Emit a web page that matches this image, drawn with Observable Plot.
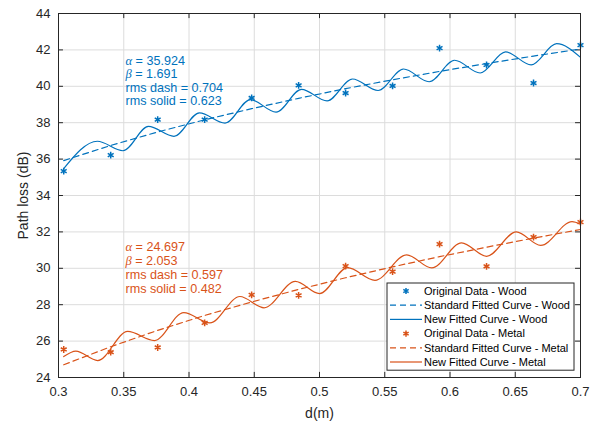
<!DOCTYPE html>
<html><head><meta charset="utf-8">
<script src="https://cdn.jsdelivr.net/npm/d3@7"></script>
<script src="https://cdn.jsdelivr.net/npm/@observablehq/plot@0.6"></script>
<style>body{margin:0;background:#fff}#chart{width:604px;height:429px}</style>
</head><body><div id="chart"></div>
<script>
// ---- data ----
const distance = [0.304,0.340,0.376,0.412,0.448,0.484,0.520,0.556,0.592,0.628,0.664,0.700];
const woodMeasured = [35.34,36.22,38.17,38.17,39.36,40.05,39.63,40.02,42.10,41.17,40.18,42.26];
const metalMeasured = [25.54,25.39,25.65,27.00,28.54,28.51,30.12,29.82,31.33,30.11,31.71,32.54];
const woodStandardFit = [35.92,36.75,37.49,38.16,38.77,39.34,39.87,40.36,40.82,41.25,41.66,42.05];
const metalStandardFit = [24.70,25.69,26.59,27.41,28.15,28.84,29.48,30.08,30.64,31.16,31.66,32.13];
const woodNewFitD = [0.304,0.3298,0.3494,0.3689,0.3885,0.408,0.4276,0.4471,0.4667,0.4862,0.5058,0.5253,0.5449,0.5644,0.584,0.6035,0.6231,0.6426,0.6622,0.6817,0.700];
const woodNewFit = [35.48,36.98,36.46,37.80,37.25,38.54,37.98,39.27,38.58,39.83,39.20,40.40,39.77,40.95,40.25,41.43,40.73,41.89,41.18,42.34,41.59];
const metalNewFitD = [0.304,0.3133,0.3300,0.3530,0.3735,0.3960,0.4160,0.4390,0.4575,0.4815,0.5000,0.5215,0.5425,0.5668,0.5860,0.6089,0.6280,0.6508,0.6695,0.6935,0.700];
const metalNewFit = [25.15,25.45,24.93,26.53,26.03,27.57,27.00,28.45,27.83,29.28,28.61,30.04,29.34,30.74,30.02,31.40,30.66,32.00,31.26,32.56,32.42];
const xTicks = [0.3,0.35,0.4,0.45,0.5,0.55,0.6,0.65,0.7];
const xTickLabels = ["0.3","0.35","0.4","0.45","0.5","0.55","0.6","0.65","0.7"];
const yTicks = [24,26,28,30,32,34,36,38,40,42,44];
const woodNotes = ["α = 35.924","β = 1.691","rms dash = 0.704","rms solid = 0.623"];
const metalNotes = ["α = 24.697","β = 2.053","rms dash = 0.597","rms solid = 0.482"];
const woodNoteAnchor = {d: 0.3513, pl: 41.66};
const metalNoteAnchor = {d: 0.3513, pl: 31.45};
const legendLabels = ["Original Data - Wood","Standard Fitted Curve - Wood","New Fitted Curve - Wood","Original Data - Metal","Standard Fitted Curve - Metal","New Fitted Curve - Metal"];
const legendKinds = ["point","dash","solid","point","dash","solid"];
const legendColors = ["#0072BD","#0072BD","#0072BD","#D95319","#D95319","#D95319"];
const BLUE = "#0072BD", ORANGE = "#D95319";

// ---- tables ----
const measured = distance.map((d,i)=>({d, wood: woodMeasured[i], metal: metalMeasured[i], ws: woodStandardFit[i], ms: metalStandardFit[i]}));
const woodNew = woodNewFitD.map((d,i)=>({d, v: woodNewFit[i]}));
const metalNew = metalNewFitD.map((d,i)=>({d, v: metalNewFit[i]}));

const font = "'Liberation Sans', Arial, Helvetica, sans-serif";
const noteMarks = (notes, anchor, color, step) => notes.map((t, i) =>
  Plot.text([t], {x: anchor.d, y: anchor.pl, dy: i * step, textAnchor: "start", lineAnchor: "top", fontSize: 12.6, fill: color, className: "note"}));

const chart = Plot.plot({
  width: 604, height: 429,
  marginLeft: 58, marginRight: 24, marginTop: 13, marginBottom: 52,
  style: {fontFamily: font, fontSize: "13px", background: "#fff", color: "#262626"},
  x: {domain: [0.3, 0.7]},
  y: {domain: [24, 44]},
  marks: [
    Plot.gridX(xTicks, {stroke: "#dcdcdc", strokeOpacity: 1}),
    Plot.gridY(yTicks, {stroke: "#dcdcdc", strokeOpacity: 1}),
    // inward ticks on all four sides
    Plot.ruleX(xTicks, {y1: 24, y2: 24.28, stroke: "#262626"}),
    Plot.ruleX(xTicks, {y1: 44, y2: 43.72, stroke: "#262626"}),
    Plot.ruleY(yTicks, {x1: 0.3, x2: 0.3038, stroke: "#262626"}),
    Plot.ruleY(yTicks, {x1: 0.7, x2: 0.6962, stroke: "#262626"}),
    Plot.axisX(xTicks, {tickSize: 0, tickPadding: 9, tickFormat: d => xTickLabels[xTicks.indexOf(d)], fontSize: 13, label: "d(m)", labelAnchor: "center", labelOffset: 40, labelArrow: "none", fill: "#262626"}),
    Plot.axisY(yTicks, {tickSize: 0, tickPadding: 8, fontSize: 13, label: "Path loss (dB)", labelAnchor: "center", labelOffset: 40, labelArrow: "none", fill: "#262626"}),
    // standard fits (dashed)
    Plot.line(measured, {x: "d", y: "ws", stroke: BLUE, strokeWidth: 1.2, strokeDasharray: "6,4"}),
    Plot.line(measured, {x: "d", y: "ms", stroke: ORANGE, strokeWidth: 1.2, strokeDasharray: "6,4"}),
    // new fits (solid)
    Plot.line(woodNew, {x: "d", y: "v", stroke: BLUE, strokeWidth: 1.2, curve: "monotone-x"}),
    Plot.line(metalNew, {x: "d", y: "v", stroke: ORANGE, strokeWidth: 1.2, curve: "monotone-x"}),
    // measured data
    Plot.dot(measured, {x: "d", y: "wood", symbol: "asterisk", r: 3.2, stroke: BLUE, strokeWidth: 1.5}),
    Plot.dot(measured, {x: "d", y: "metal", symbol: "asterisk", r: 3.2, stroke: ORANGE, strokeWidth: 1.5}),
    // annotations
    ...noteMarks(woodNotes, woodNoteAnchor, BLUE, 13.3),
    ...noteMarks(metalNotes, metalNoteAnchor, ORANGE, 14),
    Plot.frame({stroke: "#262626"})
  ]
});
document.getElementById("chart").appendChild(chart);
d3.select(chart).selectAll('[aria-label="x-axis label"], [aria-label="y-axis label"]').attr("font-size", 14);

// italic serif Greek letters as in the original TeX labels
d3.select(chart).selectAll(".note text").each(function() {
  const t = this.textContent;
  if (t[0] === "α" || t[0] === "β") {
    const el = d3.select(this);
    el.text(null);
    el.append("tspan").attr("font-family", "'Liberation Serif', serif").attr("font-style", "italic").text(t[0]);
    el.append("tspan").text(t.slice(1));
  }
});

// ---- legend box (inside the axes, south-east) ----
const svg = d3.select(chart);
const lx = 387, ly = 283, lw = 187, rowH = 14.2;
const lg = svg.append("g").attr("font-family", font).attr("font-size", 11).attr("text-anchor", "start");
lg.append("rect").attr("x", lx).attr("y", ly).attr("width", lw).attr("height", rowH * legendLabels.length + 2)
  .attr("fill", "#fff").attr("stroke", "#262626").attr("stroke-width", 1);
legendLabels.forEach((lab, i) => {
  const cy = ly + 8 + i * rowH;
  const c = legendColors[i];
  if (legendKinds[i] === "point") {
    lg.append("path").attr("d", d3.symbol(d3.symbolAsterisk, 26)()).attr("transform", `translate(${lx + 19},${cy})`)
      .attr("stroke", c).attr("stroke-width", 1.5).attr("fill", "none");
  } else {
    lg.append("line").attr("x1", lx + 3).attr("x2", lx + 35).attr("y1", cy).attr("y2", cy)
      .attr("stroke", c).attr("stroke-width", 1.2).attr("stroke-dasharray", legendKinds[i] === "dash" ? "6,4" : null);
  }
  lg.append("text").attr("x", lx + 37).attr("y", cy).attr("dy", "0.35em").attr("text-anchor", "start").attr("fill", "#000").text(lab);
});
</script>
</body></html>
